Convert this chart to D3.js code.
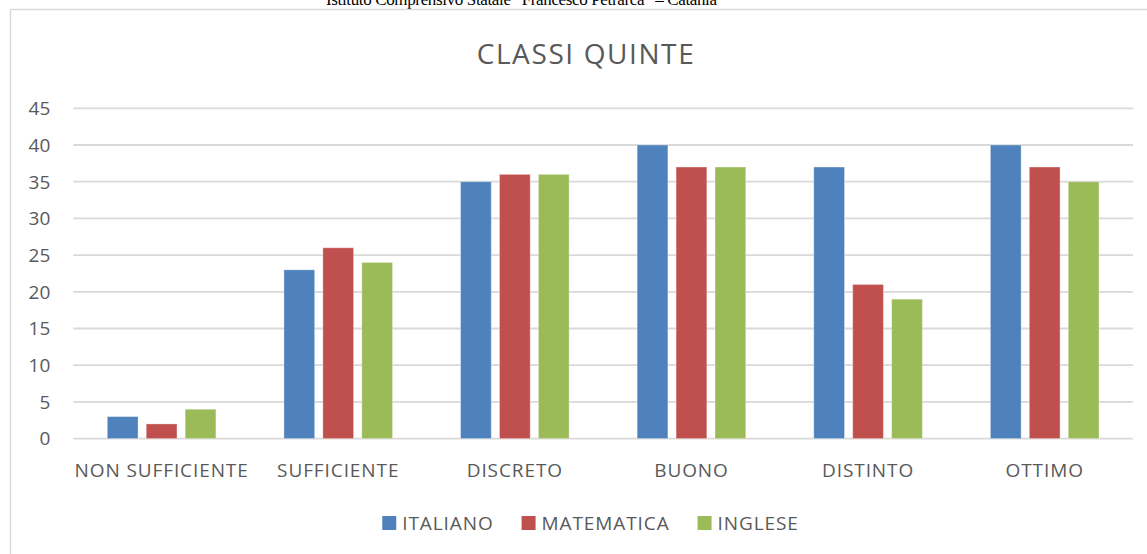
<!DOCTYPE html>
<html>
<head>
<meta charset="utf-8">
<script src="https://cdn.jsdelivr.net/npm/d3@7"></script>
<style>
  body { margin: 0; background: #fff; }
  svg text { font-family: "Open Sans", sans-serif; fill: #595959; }
</style>
</head>
<body>
<svg id="chart" width="1147" height="554"></svg>
<script>
var categories = ["NON SUFFICIENTE", "SUFFICIENTE", "DISCRETO", "BUONO", "DISTINTO", "OTTIMO"];
var seriesNames = ["ITALIANO", "MATEMATICA", "INGLESE"];
var italiano = [3, 23, 35, 40, 37, 40];
var matematica = [2, 26, 36, 37, 21, 37];
var inglese = [4, 24, 36, 37, 19, 35];
var yTicks = [0, 5, 10, 15, 20, 25, 30, 35, 40, 45];
var colors = ["#4f81bd", "#c0504d", "#9bbb59"];

var values = [italiano, matematica, inglese];
var data = categories.map(function(c, i) {
  return { cat: c, vals: seriesNames.map(function(s, j) { return { name: s, v: values[j][i], k: j }; }) };
});

var svg = d3.select("#chart"),
    margin = {top: 108.3, right: 14, bottom: 115.4, left: 73.3},
    width = +svg.attr("width") - margin.left - margin.right,
    height = +svg.attr("height") - margin.top - margin.bottom;

// header text cut at the top of the page
svg.append("text")
  .attr("x", 326).attr("y", 5)
  .attr("textLength", 391)
  .style("font-family", "'Liberation Serif', 'Times New Roman', serif")
  .style("font-size", "17px")
  .style("fill", "#000")
  .text("Istituto Comprensivo Statale \u201CFrancesco Petrarca\u201D \u2013 Catania");

// chart border
svg.append("rect")
  .attr("x", 10.5).attr("y", 9.5)
  .attr("width", 1160).attr("height", 580)
  .attr("fill", "none")
  .attr("stroke", "#d9d9d9")
  .attr("stroke-width", 1.5);

svg.append("text")
  .attr("x", 586).attr("y", 63.5)
  .attr("text-anchor", "middle")
  .style("font-size", "28px")
  .style("letter-spacing", "1.6px")
  .text("CLASSI QUINTE");

var g = svg.append("g").attr("transform", "translate(" + margin.left + "," + margin.top + ")");

var x0 = d3.scaleBand().domain(categories).range([0, width]).paddingInner(0.385).paddingOuter(0.1925);
var x1 = d3.scaleBand().domain(seriesNames).range([0, x0.bandwidth()]).paddingInner(0.21);
var y = d3.scaleLinear().domain([0, 45]).range([height, 0]);

// gridlines
g.append("g")
  .selectAll("line")
  .data(yTicks)
  .enter().append("line")
    .attr("x1", 0).attr("x2", width)
    .attr("y1", function(d) { return y(d); })
    .attr("y2", function(d) { return y(d); })
    .attr("stroke", "#d9d9d9")
    .attr("stroke-width", 1.8);

// y labels
g.append("g")
  .selectAll("text")
  .data(yTicks)
  .enter().append("text")
    .attr("x", -23)
    .attr("y", function(d) { return y(d); })
    .attr("dy", "0.36em")
    .attr("text-anchor", "end")
    .style("font-size", "19px")
    .text(function(d) { return d; });

// bars
var groups = g.selectAll(".grp")
  .data(data)
  .enter().append("g")
    .attr("class", "grp")
    .attr("transform", function(d) { return "translate(" + x0(d.cat) + ",0)"; });

groups.selectAll("rect")
  .data(function(d) { return d.vals; })
  .enter().append("rect")
    .attr("x", function(d) { return x1(d.name); })
    .attr("y", function(d) { return y(d.v); })
    .attr("width", x1.bandwidth())
    .attr("height", function(d) { return height - y(d.v); })
    .attr("fill", function(d) { return colors[d.k]; })
    .attr("stroke", "#ffffff")
    .attr("stroke-opacity", 0.35)
    .attr("stroke-width", 1);

// x labels
g.append("g")
  .selectAll("text")
  .data(categories)
  .enter().append("text")
    .attr("x", function(d) { return x0(d) + x0.bandwidth() / 2; })
    .attr("y", height + 38)
    .attr("text-anchor", "middle")
    .style("font-size", "19px")
    .style("letter-spacing", "0.9px")
    .text(function(d) { return d; });

// legend
var legend = svg.append("g");
var lx = 0;
seriesNames.forEach(function(s, i) {
  var item = legend.append("g").attr("transform", "translate(" + lx + ",0)");
  item.append("rect")
    .attr("x", 0).attr("y", 516)
    .attr("width", 14).attr("height", 14)
    .attr("fill", colors[i]);
  var t = item.append("text")
    .attr("x", 20).attr("y", 530)
    .style("font-size", "19px")
    .style("letter-spacing", "0.9px")
    .text(s);
  lx += 20 + t.node().getComputedTextLength() + 28;
});
var lw = lx - 28;
legend.attr("transform", "translate(" + (590.5 - lw / 2) + ",0)");
</script>
</body>
</html>
